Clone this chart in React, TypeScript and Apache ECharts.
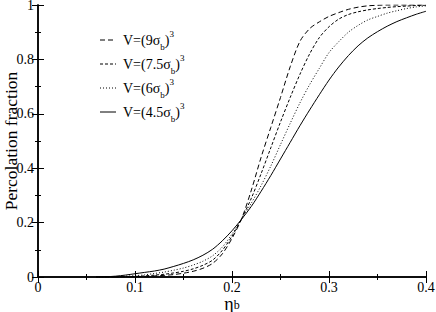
import React, { useEffect, useRef } from "react";
import * as echarts from "echarts";

const etaB = [0.06, 0.07, 0.08, 0.09, 0.1, 0.11, 0.12, 0.13, 0.14, 0.15, 0.16, 0.17, 0.18, 0.19, 0.2, 0.21, 0.22, 0.23, 0.24, 0.25, 0.26, 0.27, 0.28, 0.29, 0.3, 0.31, 0.32, 0.33, 0.34, 0.35, 0.36, 0.37, 0.38, 0.39, 0.4];
const v9 = [0, 0, 0, 0, 0.001, 0.002, 0.004, 0.006, 0.009, 0.014, 0.021, 0.032, 0.05, 0.085, 0.142, 0.215, 0.32, 0.44, 0.55, 0.66, 0.773, 0.866, 0.913, 0.938, 0.958, 0.972, 0.984, 0.992, 0.997, 0.999, 1, 1, 1, 1, 1];
const v75 = [0, 0, 0, 0.001, 0.002, 0.004, 0.007, 0.01, 0.015, 0.021, 0.03, 0.043, 0.062, 0.098, 0.15, 0.215, 0.29, 0.38, 0.475, 0.57, 0.66, 0.745, 0.82, 0.88, 0.92, 0.948, 0.965, 0.975, 0.982, 0.987, 0.991, 0.994, 0.996, 0.998, 0.999];
const v6 = [0, 0, 0.001, 0.003, 0.005, 0.008, 0.013, 0.018, 0.025, 0.033, 0.044, 0.058, 0.078, 0.11, 0.158, 0.213, 0.272, 0.336, 0.408, 0.487, 0.565, 0.64, 0.707, 0.767, 0.825, 0.865, 0.9, 0.925, 0.945, 0.958, 0.97, 0.979, 0.987, 0.993, 0.997];
const v45 = [0, 0.001, 0.003, 0.007, 0.012, 0.017, 0.022, 0.029, 0.039, 0.05, 0.063, 0.08, 0.102, 0.133, 0.17, 0.213, 0.26, 0.315, 0.373, 0.434, 0.495, 0.556, 0.614, 0.67, 0.724, 0.772, 0.814, 0.85, 0.879, 0.902, 0.922, 0.939, 0.953, 0.966, 0.977];

const seriesNames = ["9", "7.5", "6", "4.5"];
const seriesValues = [v9, v75, v6, v45];
const dashes: (number[] | null)[] = [[5, 3], [3, 2], [1, 2], null];

const FONT = "'Liberation Serif'";

export default function App() {
  const ref = useRef<HTMLDivElement>(null);
  useEffect(() => {
    if (!ref.current) return;
    const chart = echarts.init(ref.current, undefined, { renderer: "svg" });
    const axisCommon = {
      type: "value" as const,
      axisLine: { show: true, lineStyle: { color: "#000", width: 1.5 } },
      axisTick: { show: true, inside: true, length: 6, lineStyle: { color: "#000", width: 1 } },
      minorTick: { show: true, splitNumber: 2, length: 3, lineStyle: { color: "#000", width: 1 } },
      splitLine: { show: false },
    };
    const rich = {
      m: { fontFamily: FONT, fontSize: 14, color: "#000", lineHeight: 22, verticalAlign: "middle" },
      sub: { fontFamily: FONT, fontSize: 9, color: "#000", verticalAlign: "bottom", lineHeight: 9 },
      sup: { fontFamily: FONT, fontSize: 9, color: "#000", verticalAlign: "top", lineHeight: 9 },
    };
    const legendY = [40, 64, 88, 112];
    const graphics: any[] = [];
    seriesNames.forEach((n, i) => {
      graphics.push({
        type: "line",
        shape: { x1: 100, y1: legendY[i], x2: 116, y2: legendY[i] },
        style: { stroke: "#000", lineWidth: 1, lineDash: dashes[i] || undefined },
      });
      graphics.push({
        type: "text",
        x: 123,
        y: legendY[i],
        style: {
          text: `{m|V=(${n}σ}{sub|b}{m|)}{sup|3}`,
          rich,
          verticalAlign: "middle",
          align: "left",
        },
      });
    });
    chart.setOption({
      animation: false,
      backgroundColor: "#fff",
      grid: { left: 38, right: 10, top: 5, bottom: 35, outerBoundsMode: "none", containLabel: false },
      xAxis: [
        {
          ...axisCommon,
          min: 0,
          max: 0.4,
          interval: 0.1,
          position: "bottom",
          axisLabel: { show: true, color: "#000", fontFamily: FONT, fontSize: 14, lineHeight: 12, margin: 4 },
          name: "{m|η}{s|b}",
          nameLocation: "middle",
          nameGap: 20,
          nameMoveOverlap: false,
          nameTextStyle: {
            verticalAlign: "top",
            rich: {
              m: { fontFamily: FONT, fontSize: 18, color: "#000", lineHeight: 14, verticalAlign: "middle" },
              s: { fontFamily: FONT, fontSize: 12, color: "#000", verticalAlign: "bottom", lineHeight: 9 },
            },
          },
        },
        {
          ...axisCommon,
          min: 0,
          max: 0.4,
          interval: 0.1,
          position: "top",
          axisLabel: { show: false },
        },
      ],
      yAxis: [
        {
          ...axisCommon,
          min: 0,
          max: 1,
          interval: 0.2,
          position: "left",
          axisLabel: { show: true, color: "#000", fontFamily: FONT, fontSize: 14, margin: 4 },
          name: "Percolation fraction",
          nameLocation: "middle",
          nameGap: 18,
          nameMoveOverlap: false,
          nameTextStyle: { fontFamily: FONT, fontSize: 17.5, color: "#000" },
        },
        {
          ...axisCommon,
          min: 0,
          max: 1,
          interval: 0.2,
          position: "right",
          axisLabel: { show: false },
        },
      ],
      series: seriesValues.map((vals, i) => ({
        type: "line",
        name: seriesNames[i],
        xAxisIndex: 0,
        yAxisIndex: 0,
        data: etaB.map((x, j) => [x, vals[j]]),
        showSymbol: false,
        symbol: "none",
        smooth: 0.3,
        lineStyle: { color: "#000", width: 1, type: dashes[i] || "solid" },
        silent: true,
      })),
      graphic: graphics,
    });
    return () => chart.dispose();
  }, []);
  return <div ref={ref} style={{ width: 436, height: 312, position: "absolute", left: 0, top: 0 }} />;
}
